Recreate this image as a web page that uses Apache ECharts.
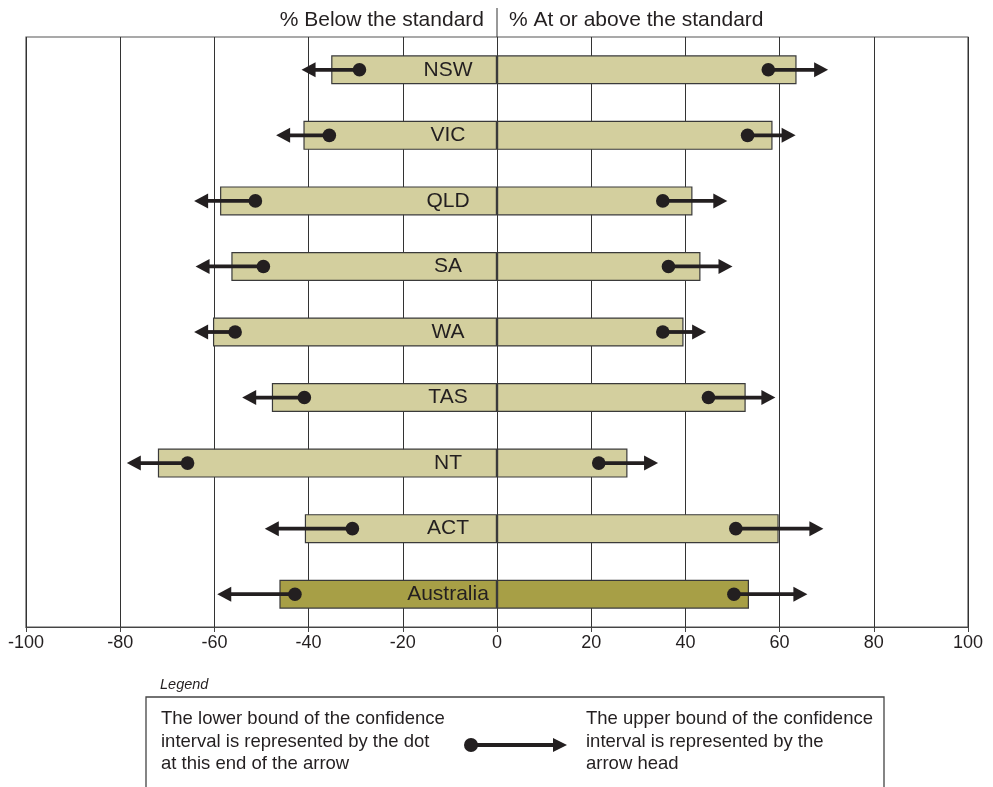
<!DOCTYPE html>
<html>
<head>
<meta charset="utf-8">
<title>Confidence intervals by state</title>
<script src="https://cdn.jsdelivr.net/npm/echarts@6/dist/echarts.min.js"></script>
<style>
  html, body { margin: 0; padding: 0; background: #fff; }
  #chart { width: 993px; height: 787px; }
</style>
</head>
<body>
<div id="chart"></div>
<script>
// data (percent of students)
const states = ['NSW', 'VIC', 'QLD', 'SA', 'WA', 'TAS', 'NT', 'ACT', 'Australia'];
const belowPct = [-35.2, -41.1, -58.8, -56.4, -60.3, -47.8, -72.0, -40.8, -46.2];
const abovePct = [63.6, 58.5, 41.5, 43.2, 39.6, 52.8, 27.7, 59.8, 53.5];
// confidence interval: lower bound = dot, upper bound = arrow head
const belowLower = [-29.2, -35.6, -51.3, -49.6, -55.6, -40.9, -65.7, -30.7, -42.9];
const belowUpper = [-41.5, -46.9, -64.3, -64.0, -64.3, -54.1, -78.6, -49.3, -59.4];
const aboveLower = [57.6, 53.2, 35.2, 36.4, 35.2, 44.9, 21.6, 50.7, 50.3];
const aboveUpper = [70.3, 63.4, 48.9, 50.0, 44.4, 59.1, 34.2, 69.3, 65.9];
const xTicks = { min: -100, max: 100, step: 20 };

const ink = '#231f20';
const barFill = '#d3cf9e';
const totalFill = '#a79f46';
const fontFamily = 'Arial, "Liberation Sans", Helvetica, sans-serif';

const chart = echarts.init(document.getElementById('chart'));

function barData(values) {
    return values.map((v, i) => ({
        value: v,
        itemStyle: { color: states[i] === 'Australia' ? totalFill : barFill }
    }));
}

function arrowData(lower, upper) {
    return states.map((s, i) => [s, lower[i], upper[i]]);
}

function renderArrow(params, api) {
    const cat = api.value(0);
    const p0 = api.coord([api.value(1), cat]);
    const p1 = api.coord([api.value(2), cat]);
    const dir = p1[0] > p0[0] ? 1 : -1;
    const headLen = 14;
    const headHalf = 7.5;
    const baseX = p1[0] - dir * headLen;
    return {
        type: 'group',
        children: [
            {
                type: 'line',
                shape: { x1: p0[0], y1: p0[1], x2: baseX + dir, y2: p1[1] },
                style: { stroke: ink, lineWidth: 3.8 }
            },
            {
                type: 'polygon',
                shape: { points: [[p1[0], p1[1]], [baseX, p1[1] - headHalf], [baseX, p1[1] + headHalf]] },
                style: { fill: ink }
            },
            {
                type: 'circle',
                shape: { cx: p0[0], cy: p0[1], r: 6.8 },
                style: { fill: ink }
            }
        ]
    };
}

const option = {
    animation: false,
    textStyle: { fontFamily: fontFamily },
    grid: {
        left: 26,
        right: 25,
        top: 37,
        bottom: 160,
        show: true,
        borderColor: '#555',
        borderWidth: 1.2
    },
    xAxis: {
        type: 'value',
        min: xTicks.min,
        max: xTicks.max,
        interval: xTicks.step,
        axisLine: { show: true, onZero: false, lineStyle: { color: '#444', width: 1.2 } },
        axisTick: { show: true, length: 5, lineStyle: { color: '#444' } },
        axisLabel: { fontSize: 18, color: ink, margin: 7 },
        splitLine: { show: true, lineStyle: { color: '#333', width: 1 } }
    },
    yAxis: {
        type: 'category',
        data: states,
        inverse: true,
        z: 10,
        axisLine: { show: false },
        axisTick: { show: false },
        splitLine: { show: false },
        axisLabel: {
            inside: true,
            margin: 422,
            align: 'center',
            fontSize: 21,
            color: ink
        }
    },
    series: [
        {
            name: 'Below',
            type: 'bar',
            barWidth: 29,
            barGap: '-100%',
            itemStyle: { borderColor: '#3a3a3a', borderWidth: 1.2 },
            data: barData(belowPct)
        },
        {
            name: 'At or above',
            type: 'bar',
            barWidth: 29,
            barGap: '-100%',
            itemStyle: { borderColor: '#3a3a3a', borderWidth: 1.2 },
            data: barData(abovePct)
        },
        {
            name: 'Below CI',
            type: 'custom',
            z: 5,
            renderItem: renderArrow,
            encode: { x: [1, 2], y: 0 },
            data: arrowData(belowLower, belowUpper)
        },
        {
            name: 'Above CI',
            type: 'custom',
            z: 5,
            renderItem: renderArrow,
            encode: { x: [1, 2], y: 0 },
            data: arrowData(aboveLower, aboveUpper)
        }
    ]
};

chart.setOption(option);

// header above the plot and the legend box below it
const zeroX = chart.convertToPixel({ xAxisIndex: 0 }, 0);
const legendText = { fontSize: 18.5, fill: ink, fontFamily: fontFamily, lineHeight: 22.5 };

chart.setOption({
    graphic: {
        elements: [
            {
                type: 'line',
                shape: { x1: zeroX, y1: 8, x2: zeroX, y2: 37 },
                style: { stroke: '#333', lineWidth: 1 }
            },
            {
                type: 'text',
                x: zeroX - 13, y: 20,
                style: {
                    text: '% Below the standard', fontSize: 21, fill: ink,
                    fontFamily: fontFamily, align: 'right', verticalAlign: 'middle'
                }
            },
            {
                type: 'text',
                x: zeroX + 12, y: 20,
                style: {
                    text: '% At or above the standard', fontSize: 21, fill: ink,
                    fontFamily: fontFamily, align: 'left', verticalAlign: 'middle'
                }
            },
            {
                type: 'text',
                x: 160, y: 685,
                style: {
                    text: 'Legend', fontSize: 14.5, fontStyle: 'italic', fill: ink,
                    fontFamily: fontFamily, verticalAlign: 'middle'
                }
            },
            {
                type: 'polyline',
                shape: { points: [[146, 800], [146, 697], [884, 697], [884, 800]] },
                style: { stroke: '#444', lineWidth: 1.3, fill: null }
            },
            {
                type: 'text',
                x: 161, y: 708,
                style: Object.assign({
                    text: 'The lower bound of the confidence\ninterval is represented by the dot\nat this end of the arrow',
                    verticalAlign: 'top'
                }, legendText)
            },
            {
                type: 'text',
                x: 586, y: 708,
                style: Object.assign({
                    text: 'The upper bound of the confidence\ninterval is represented by the\narrow head',
                    verticalAlign: 'top'
                }, legendText)
            },
            {
                type: 'line',
                shape: { x1: 471, y1: 745, x2: 554, y2: 745 },
                style: { stroke: ink, lineWidth: 3.8 }
            },
            {
                type: 'polygon',
                shape: { points: [[567, 745], [553, 738], [553, 752]] },
                style: { fill: ink }
            },
            {
                type: 'circle',
                shape: { cx: 471, cy: 745, r: 7 },
                style: { fill: ink }
            }
        ]
    }
});
</script>
</body>
</html>
